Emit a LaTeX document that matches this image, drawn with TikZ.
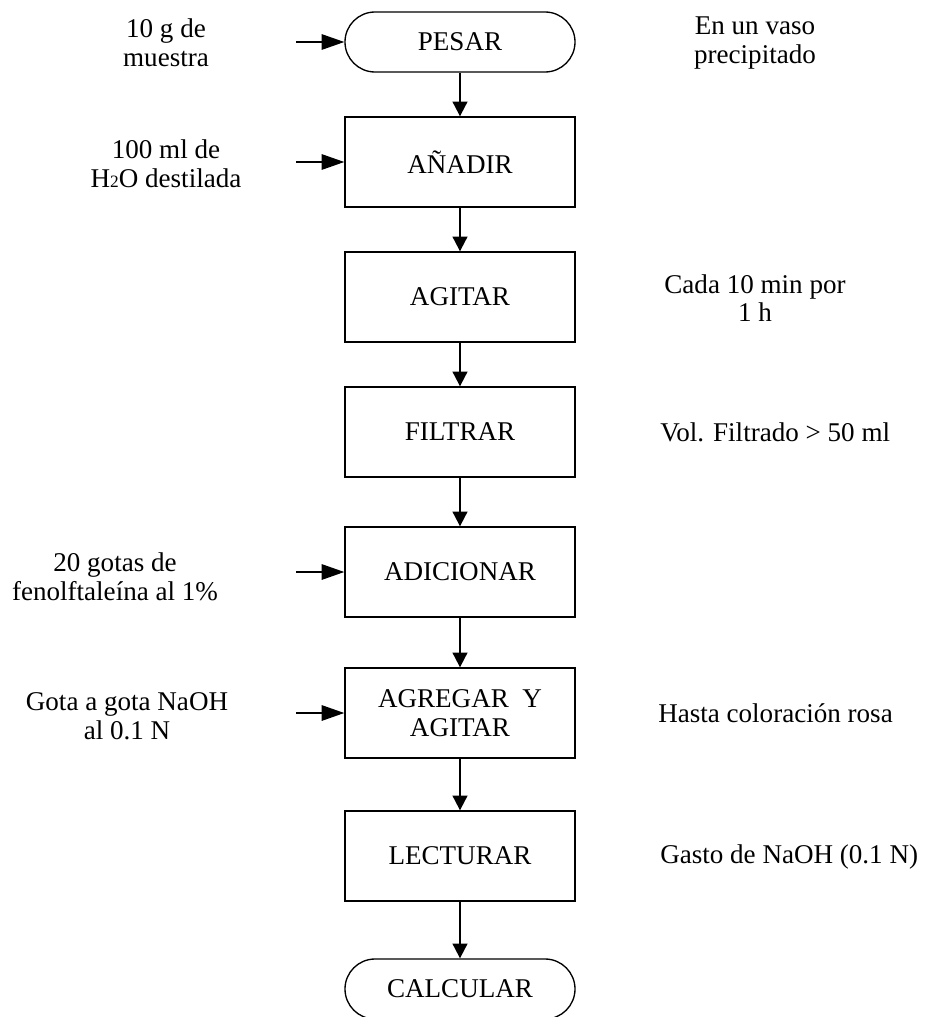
\documentclass[tikz,border=0pt]{standalone}
\usepackage{fontspec}
\setmainfont{Liberation Serif}
\usetikzlibrary{arrows.meta}

\begin{document}
\begin{tikzpicture}[x=0.75pt,y=-0.75pt,
    font=\fontsize{20.3}{21.5}\selectfont,
    paso/.style={draw,line width=1pt,minimum width=172.5pt,minimum height=67.5pt,inner sep=0pt,align=center},
    terminal/.style={paso,minimum height=45pt,rounded corners=22.5pt},
    nota/.style={align=center,inner sep=0pt},
    flecha/.style={line width=1.5pt,-{Triangle[length=11pt,width=11pt]}},
    entrada/.style={line width=1.5pt,-{Triangle[length=17pt,width=11.5pt]}}]
  \useasboundingbox (0,0) rectangle (925,1017);

  % Etapas
  \node[terminal] (pesar) at (460,42) {PESAR};
  \node[paso] (anadir) at (460,162) {AÑADIR};
  \node[paso] (agitar) at (460,297) {AGITAR};
  \node[paso] (filtrar) at (460,432) {FILTRAR};
  \node[paso] (adicionar) at (460,572) {ADICIONAR};
  \node[paso] (agregar) at (460,713) {AGREGAR\ \ Y\\AGITAR};
  \node[paso] (lecturar) at (460,856) {LECTURAR};
  \node[terminal] (calcular) at (460,989) {CALCULAR};

  \foreach \a/\b in {pesar/anadir,anadir/agitar,agitar/filtrar,filtrar/adicionar,
                     adicionar/agregar,agregar/lecturar,lecturar/calcular}
    \draw[flecha] (\a) -- (\b);

  % Entradas
  \node[nota] (m-pesar) at (166,43) {10 g de\\muestra};
  \node[nota] (m-anadir) at (166,164) {100 ml de\\H{\fontsize{13}{13}\selectfont 2}O destilada};
  \node[nota] (m-adicionar) at (115,577) {20 gotas de\\fenolftaleína al 1\%};
  \node[nota] (m-agregar) at (127,716) {Gota a gota NaOH\\al 0.1 N};

  \foreach \n in {pesar,anadir,adicionar,agregar} {
    \coordinate (in-\n) at ([xshift=-36pt]\n.west);
    \draw[entrada] (in-\n) -- (\n.west);
  }

  % Condiciones
  \node[nota] (c-pesar) at (755,43) {En un vaso\\precipitado};
  \node[nota] (c-agitar) at (755,298) {Cada 10 min por\\1 h};
  \node[nota,anchor=west] (c-filtrar) at (660,432) {Vol. Filtrado > 50 ml};
  \node[nota,anchor=west] (c-agregar) at (658,713) {Hasta coloración rosa};
  \node[nota,anchor=west] (c-lecturar) at (660,857) {Gasto de NaOH (0.1 N)};
\end{tikzpicture}
\end{document}
